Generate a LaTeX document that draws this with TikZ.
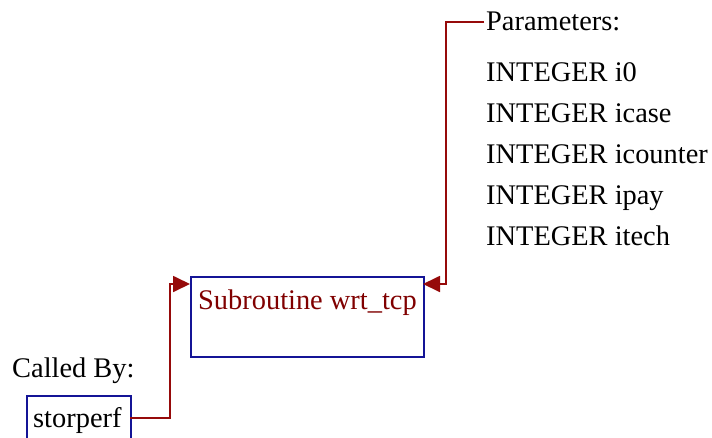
\documentclass[tikz,border=0pt]{standalone}
\usepackage{fontspec}
\setmainfont{Liberation Serif}
\usetikzlibrary{arrows.meta}
\definecolor{linkred}{RGB}{150,10,10}
\definecolor{textred}{RGB}{128,0,0}
\definecolor{boxblue}{RGB}{20,20,150}
\tikzset{
  lbl/.style={anchor=base west, inner sep=0pt, font=\fontsize{28.4}{31}\selectfont, text=black},
  fbox/.style={draw=boxblue, line width=1.6pt, inner sep=0pt},
  conn/.style={draw=linkred, line width=1.8pt, -{Triangle[length=17pt,width=16pt]}},
}
\begin{document}
\begin{tikzpicture}[x=1pt,y=-1pt]
\useasboundingbox (0,0) rectangle (712,437);
% main box
\node[fbox, minimum width=233pt, minimum height=80pt, anchor=north west] (main) at (190,276) {};
\node[lbl, text=textred] (mainlbl) at (198,309) {Subroutine wrt\_tcp};
% caller
\node[lbl] (calledby) at (12,377) {Called By:};
\node[fbox, minimum width=104pt, minimum height=48pt, anchor=north west] (stor) at (26,395) {};
\node[lbl] (storlbl) at (33,427) {storperf};
% parameters
\node[lbl] (params) at (486,30) {Parameters:};
\node[lbl] (p1) at (486,81) {INTEGER i0};
\node[lbl] (p2) at (486,122) {INTEGER icase};
\node[lbl] (p3) at (486,163) {INTEGER icounter};
\node[lbl] (p4) at (486,204) {INTEGER ipay};
\node[lbl] (p5) at (486,245) {INTEGER itech};
% connectors
\coordinate (sout) at (130,418);
\coordinate (pout) at (484,22);
\coordinate (min) at (190,284);
\coordinate (mout) at (423,284);
\draw[conn] (sout) -- (170,418) -- (170,284) -- (min);
\draw[conn] (pout) -- (446,22) -- (446,284) -- (mout);
\end{tikzpicture}
\end{document}
